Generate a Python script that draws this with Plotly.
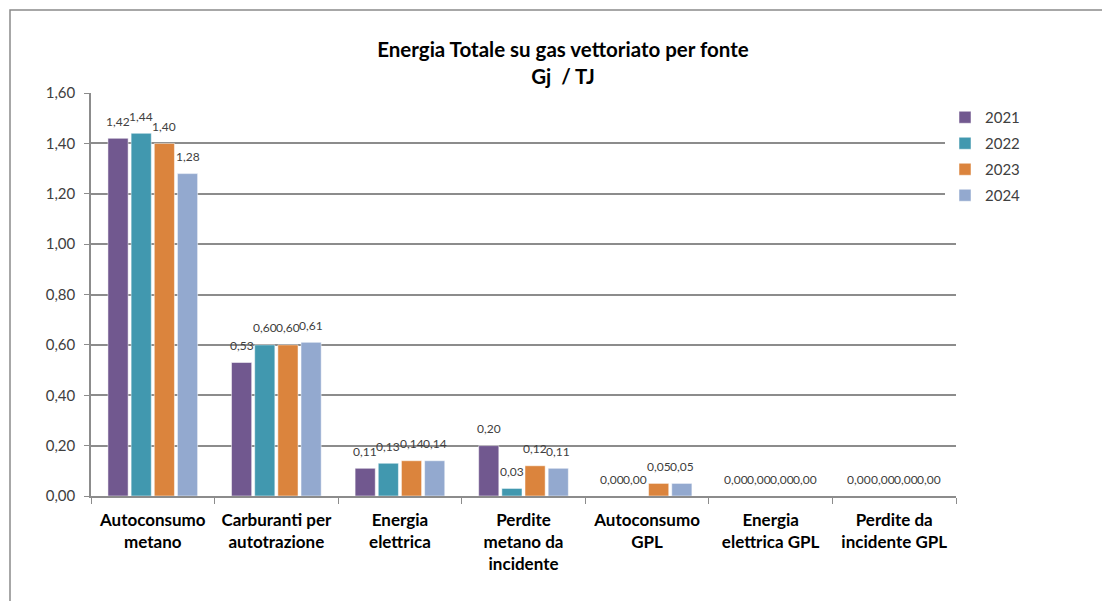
import plotly.graph_objects as go

categories = [
    "Autoconsumo<br>metano",
    "Carburanti per<br>autotrazione",
    "Energia<br>elettrica",
    "Perdite<br>metano da<br>incidente",
    "Autoconsumo<br>GPL",
    "Energia<br>elettrica GPL",
    "Perdite da<br>incidente GPL",
]
years = ["2021", "2022", "2023", "2024"]
values_2021 = [1.42, 0.53, 0.11, 0.20, 0.00, 0.00, 0.00]
values_2022 = [1.44, 0.60, 0.13, 0.03, 0.00, 0.00, 0.00]
values_2023 = [1.40, 0.60, 0.14, 0.12, 0.05, 0.00, 0.00]
values_2024 = [1.28, 0.61, 0.14, 0.11, 0.05, 0.00, 0.00]
colors = ["#71588F", "#4198AF", "#DB843D", "#93A9CF"]

series = [values_2021, values_2022, values_2023, values_2024]

FONT = "Lato, 'Open Sans', sans-serif"

# page body adds ~8px around the figure, so work in screen pixels and shift
OFF = 8
W, H = 1110 - OFF, 601 - OFF
plot_left, plot_right, plot_top, plot_bottom = 91, 956, 93, 496
l, t = plot_left - OFF, plot_top - OFF
pw, ph = plot_right - plot_left, plot_bottom - plot_top
r, b = W - l - pw, H - t - ph

px_x = lambda X: (X - plot_left) / pw
px_y = lambda Y: (plot_bottom - Y) / ph

bargap, bargroupgap = 0.25, 0.13
slot = pw / len(categories) * (1 - bargap) / len(years)

fig = go.Figure()
for i, (year, vals, col) in enumerate(zip(years, series, colors)):
    fig.add_trace(go.Bar(
        x=categories,
        y=vals,
        name=year,
        legendgroup=year,
        marker=dict(color=col, line=dict(color="white", width=0.5)),
    ))
    # data labels placed above each bar, Excel-style
    for cat, v in zip(categories, vals):
        fig.add_annotation(
            x=cat, y=v, xref="x", yref="y",
            text=f"{v:.2f}".replace(".", ","),
            showarrow=False,
            xshift=(i - 1.5) * slot,
            yshift=17,
            yanchor="middle",
            font=dict(size=12, color="#404040", family=FONT),
        )

# outer chart border
fig.add_shape(type="rect", xref="paper", yref="paper",
              x0=px_x(10), x1=px_x(1300), y0=px_y(800), y1=px_y(10),
              line=dict(color="#8a8a8a", width=1.5), layer="below")

fig.update_layout(
    width=W,
    height=H,
    margin=dict(l=l, r=r, t=t, b=b),
    paper_bgcolor="white",
    plot_bgcolor="white",
    separators=",.",
    barmode="group",
    bargap=bargap,
    bargroupgap=bargroupgap,
    font=dict(family=FONT, color="#404040"),
    title=dict(
        text="<b>Energia Totale su gas vettoriato per fonte<br>Gj  / TJ</b>",
        x=px_x(563), xanchor="center", xref="paper",
        y=1 - (57 - OFF) / H, yanchor="top", yref="container",
        font=dict(size=20.5, color="black", family=FONT),
    ),
    legend=dict(
        x=px_x(945), y=px_y(101), xanchor="left", yanchor="top",
        font=dict(size=15, color="#404040", family=FONT),
        tracegroupgap=3.5,
        itemwidth=30,
    ),
    yaxis=dict(
        range=[0, 1.6],
        dtick=0.2,
        tickformat=".2f",
        showgrid=True,
        gridcolor="#8c8c8c",
        gridwidth=1.5,
        showline=True,
        linecolor="#8c8c8c",
        linewidth=1.5,
        ticks="outside",
        ticklen=5,
        tickcolor="#8c8c8c",
        ticklabelstandoff=6,
        tickfont=dict(size=15, color="#404040", family=FONT),
        zeroline=False,
    ),
    xaxis=dict(
        showline=True,
        linecolor="#8c8c8c",
        linewidth=1.5,
        ticks="outside",
        ticklen=6,
        tickcolor="#8c8c8c",
        tickson="boundaries",
        tickangle=0,
        ticklabelstandoff=8,
        tickfont=dict(size=17, color="black", family=FONT, weight="bold"),
    ),
)

fig.write_html("out.html")
